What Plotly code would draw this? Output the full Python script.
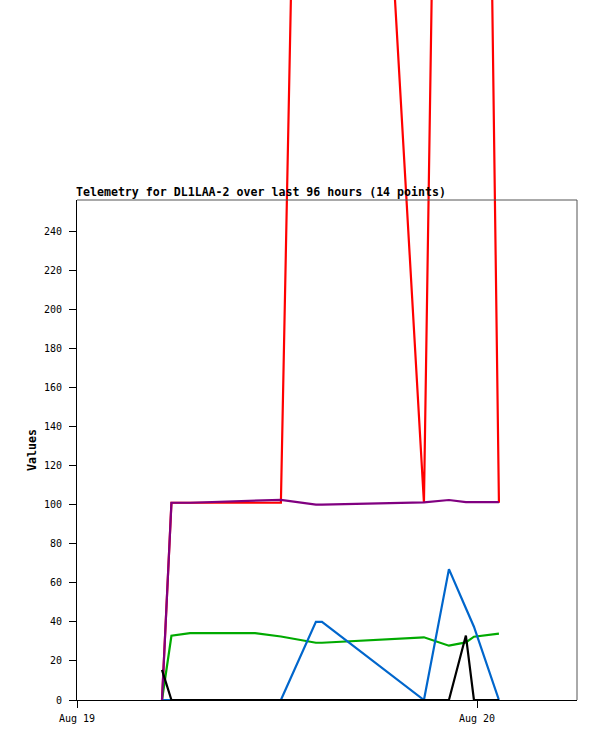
import plotly.graph_objects as go

# Data
times = [
    "2024-08-19 05:06", "2024-08-19 05:40", "2024-08-19 06:47", "2024-08-19 10:41",
    "2024-08-19 12:14", "2024-08-19 14:20", "2024-08-19 14:42", "2024-08-19 20:49",
    "2024-08-19 22:19", "2024-08-19 23:20", "2024-08-19 23:49", "2024-08-20 01:19",
]
red_vals = [0, 101, 101, 101, 101, 1004, 1008, 101, 940, 1120, 1064, 101]
green_vals = [0, 32.9, 34.2, 34.2, 32.5, 29.3, 29.3, 32.1, 27.8, 29.5, 32.4, 34.0]
blue_vals = [0, 0, 0, 0, 0, 40, 40, 0, 67, 47, 37.5, 0]
purple_vals = [0, 101, 101, 102.0, 102.5, 100, 100, 101.2, 102.4, 101.3, 101.3, 101.3]
black_vals = [15.4, 0, 0, 0, 0, 0, 0, 0, 0, 33, 0, 0]

x_range = ["2024-08-19 00:00", "2024-08-20 06:00"]
y_range = [0, 256]
y_ticks = [0, 20, 40, 60, 80, 100, 120, 140, 160, 180, 200, 220, 240]
x_tickvals = ["2024-08-19", "2024-08-20"]
x_ticktext = ["Aug 19", "Aug 20"]
title_text = "Telemetry for DL1LAA-2 over last 96 hours (14 points)"
y_title = "Values"

W, H = 597, 741
ML, MR, MT, MB = 77, 20, 0, 41
plot_w = W - ML - MR            # 500
plot_h = H - MT - MB            # 700
frame_h = 500                   # visible axes box height
dom_top = frame_h / plot_h

series = [
    (red_vals, "#ff0000"),
    (green_vals, "#00aa00"),
    (blue_vals, "#0066cc"),
    (purple_vals, "#800080"),
    (black_vals, "#000000"),
]

fig = go.Figure()
# empty trace so the visible axes subplot gets created
fig.add_trace(go.Scatter(x=[], y=[], xaxis="x", yaxis="y", showlegend=False))
for vals, col in series:
    fig.add_trace(go.Scatter(
        x=times, y=vals, mode="lines", xaxis="x2", yaxis="y2",
        line=dict(color=col, width=2.2), showlegend=False, hoverinfo="skip",
    ))

mono = "DejaVu Sans Mono"
frame_col = "#555555"
fig.update_layout(
    width=W, height=H,
    margin=dict(l=ML, r=MR, t=MT, b=MB, pad=0),
    paper_bgcolor="white", plot_bgcolor="rgba(0,0,0,0)",
    showlegend=False,
    xaxis=dict(
        domain=[0, 1], anchor="y", type="date", range=x_range,
        tickmode="array", tickvals=x_tickvals, ticktext=x_ticktext,
        ticks="outside", ticklen=7, tickwidth=1, tickcolor="black",
        showline=True, linecolor="black", linewidth=1,
        showgrid=False, zeroline=False, ticklabelstandoff=2,
        tickfont=dict(family=mono, size=10, color="black"),
    ),
    yaxis=dict(
        domain=[0, dom_top], anchor="x", range=y_range,
        tickmode="array", tickvals=y_ticks,
        ticks="outside", ticklen=7, tickwidth=1, tickcolor="black",
        showline=True, linecolor="black", linewidth=1,
        showgrid=False, zeroline=False,
        ticklabelstandoff=5,
        tickfont=dict(family=mono, size=10, color="black"),
    ),
    xaxis2=dict(domain=[0, 1], anchor="y2", type="date", range=x_range, visible=False),
    yaxis2=dict(domain=[0, 1], anchor="x2",
                range=[y_range[0], y_range[1] * plot_h / frame_h], visible=False),
    shapes=[
        dict(type="line", xref="paper", yref="paper", x0=0, x1=1, y0=dom_top, y1=dom_top,
             line=dict(color=frame_col, width=1), layer="above"),
        dict(type="line", xref="paper", yref="paper", x0=1, x1=1, y0=0, y1=dom_top,
             line=dict(color=frame_col, width=1), layer="above"),
    ],
    annotations=[
        dict(text="<b>" + title_text + "</b>", xref="paper", yref="paper",
             x=-3 / plot_w, y=(plot_h - 192) / plot_h, xanchor="left", yanchor="middle",
             showarrow=False, font=dict(family=mono, size=11.6, color="black")),
        dict(text="<b>" + y_title + "</b>", xref="paper", yref="paper",
             x=(32 - ML) / plot_w, y=(plot_h - 450) / plot_h,
             xanchor="center", yanchor="middle", textangle=-90,
             showarrow=False, font=dict(family=mono, size=11.6, color="black")),
    ],
)

fig.write_html("out.html", config={"displayModeBar": False},
               post_script="document.body.style.margin='0';")
